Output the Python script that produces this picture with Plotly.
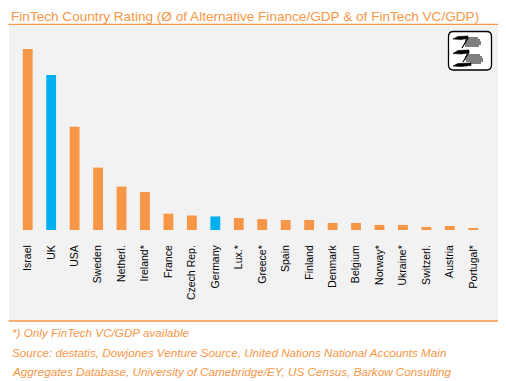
import plotly.graph_objects as go

countries = ["Israel", "UK", "USA", "Sweden", "Netherl.", "Ireland*", "France", "Czech Rep.",
             "Germany", "Lux.*", "Greece*", "Spain", "Finland", "Denmark", "Belgium", "Norway*",
             "Ukraine*", "Switzerl.", "Austria", "Portugal*"]
rating = [100, 85.6, 57, 34.5, 24, 21, 9, 8, 7.5, 6.6, 6, 5.5, 5.5, 3.9, 3.9, 2.8, 2.8, 1.7, 2.2, 1.1]
highlight = ["UK", "Germany"]

ORANGE = "#F79646"
BLUE = "#00B0F0"
FONT = "Liberation Sans, Arial, sans-serif"

# page body has an 8px margin: work in page pixels, convert to figure paper coords
OFF = 8
FW, FH = 498, 373
L, R, T, B = 8, 21, 41, 151
PW, PH = FW - L - R, FH - T - B

def px(x):
    return (x - OFF - L) / PW

def py(y):
    return (FH - B - (y - OFF)) / PH

colors = [BLUE if c in highlight else ORANGE for c in countries]

fig = go.Figure(go.Bar(x=countries, y=rating, marker=dict(color=colors, line=dict(width=0)),
                       width=0.42, hoverinfo="x+y"))

shapes = []
shapes.append(dict(type="rect", xref="paper", yref="paper", x0=px(9), x1=px(499), y0=py(320), y1=py(25.5),
                   fillcolor="#F2F2F2", line=dict(width=0), layer="below"))
for yy in (24.3, 321):
    shapes.append(dict(type="line", xref="paper", yref="paper", x0=px(8.5), x1=px(500), y0=py(yy), y1=py(yy),
                       line=dict(color=ORANGE, width=1.3)))

def rrect(x0, y0, x1, y1, r):
    p = lambda x, y: f"{px(x):.5f},{py(y):.5f}"
    return (f"M {p(x0+r, y0)} L {p(x1-r, y0)} Q {p(x1, y0)} {p(x1, y0+r)} L {p(x1, y1-r)} "
            f"Q {p(x1, y1)} {p(x1-r, y1)} L {p(x0+r, y1)} Q {p(x0, y1)} {p(x0, y1-r)} "
            f"L {p(x0, y0+r)} Q {p(x0, y0)} {p(x0+r, y0)} Z")

shapes.append(dict(type="path", xref="paper", yref="paper", path=rrect(448.5, 31.5, 491.5, 70, 5),
                   fillcolor="white", line=dict(color="black", width=1.3)))

def poly(pts):
    return "M " + " L ".join(f"{px(x):.5f},{py(y):.5f}" for x, y in pts) + " Z"

for (y0, y1, xl, xr) in [(36, 39.5, 453, 468), (50, 54, 453, 469), (63, 66.5, 453, 471)]:
    shapes.append(dict(type="path", xref="paper", yref="paper",
                       path=poly([(xl, y1 - 0.5), (xl + 5, y0 + 0.5), (xr, y0), (xr, y1 - 1), (xl + 8, y1)]),
                       fillcolor="black", line=dict(color="black", width=0.6)))
for (xa, ya, xb, yb) in [(468, 38, 462, 48), (469, 52, 463, 62)]:
    shapes.append(dict(type="line", xref="paper", yref="paper", x0=px(xa), x1=px(xb), y0=py(ya), y1=py(yb),
                       line=dict(color="black", width=1.2)))
for (yy, xa, xb) in [(38, 466, 478), (40, 465, 480), (42, 465, 481), (44, 464, 481), (46, 465, 479),
                     (55, 466, 480), (57, 465, 482), (59, 465, 483), (61, 466, 483), (63, 470, 481)]:
    shapes.append(dict(type="line", xref="paper", yref="paper", x0=px(xa), x1=px(xb), y0=py(yy), y1=py(yy),
                       line=dict(color="black", width=1)))

def note(text, x, y, size, italic=False, anchor="middle"):
    return dict(text=f"<i>{text}</i>" if italic else text, xref="paper", yref="paper",
                x=px(x), y=py(y), xanchor="left", yanchor=anchor, showarrow=False, borderpad=0,
                font=dict(family=FONT, size=size, color=ORANGE))

annotations = [
    note("FinTech Country Rating (Ø of Alternative Finance/GDP & of FinTech VC/GDP)", 10, 8.0, 13.6,
         anchor="top"),
    note("*) Only FinTech VC/GDP available", 11, 332, 11.7, True),
    note("Source: destatis, Dowjones Venture Source, United Nations National Accounts Main", 11, 352, 11.7, True),
    note("Aggregates Database, University of Camebridge/EY, US Census, Barkow Consulting", 11, 371.5, 11.7, True),
]

fig.update_layout(
    width=FW, height=FH, margin=dict(l=L, r=R, t=T, b=B, pad=0),
    paper_bgcolor="white", plot_bgcolor="rgba(0,0,0,0)",
    showlegend=False, shapes=shapes, annotations=annotations,
    xaxis=dict(tickangle=-90, showgrid=False, zeroline=False, showline=False,
               ticks="outside", ticklen=10, tickcolor="rgba(0,0,0,0)",
               tickfont=dict(family=FONT, size=10.5, color="black"),
               fixedrange=True),
    yaxis=dict(range=[0, 100], visible=False, fixedrange=True),
)

fig.write_html("out.html")
